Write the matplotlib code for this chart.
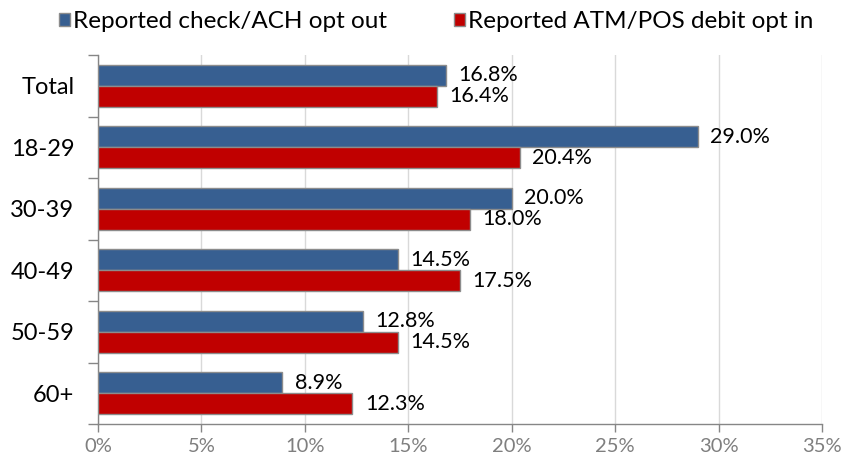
import numpy as np
import matplotlib.pyplot as plt
from matplotlib.ticker import FixedLocator, NullFormatter

plt.rcParams["font.family"] = ["Lato", "DejaVu Sans"]

groups = ["Total", "18-29", "30-39", "40-49", "50-59", "60+"]
check_ach_opt_out = [16.8, 29.0, 20.0, 14.5, 12.8, 8.9]
atm_pos_opt_in = [16.4, 20.4, 18.0, 17.5, 14.5, 12.3]
series_names = ["Reported check/ACH opt out", "Reported ATM/POS debit opt in"]

BLUE = "#375F91"
RED = "#C00000"
EDGE = "#8C8C8C"
AXIS = "#868686"

fig = plt.figure(figsize=(8.43, 4.70), dpi=100)
ax = fig.add_axes([98 / 843, 1 - 424 / 470, 724 / 843, 369 / 470])

y = np.arange(len(groups))
h = 0.345
ax.barh(y - h / 2, check_ach_opt_out, height=h, color=BLUE, edgecolor=EDGE,
        linewidth=1, label=series_names[0], zorder=3)
ax.barh(y + h / 2, atm_pos_opt_in, height=h, color=RED, edgecolor=EDGE,
        linewidth=1, label=series_names[1], zorder=3)

for yi, v in zip(y, check_ach_opt_out):
    ax.text(v + 0.6, yi - h / 2, f"{v:.1f}%", va="center", ha="left",
            fontsize=15.5, color="black")
for yi, v in zip(y, atm_pos_opt_in):
    ax.text(v + 0.6, yi + h / 2, f"{v:.1f}%", va="center", ha="left",
            fontsize=15.5, color="black")

ax.set_xlim(0, 35)
ax.set_ylim(len(groups) - 0.5, -0.5)
ax.set_xticks(np.arange(0, 36, 5))
ax.set_xticklabels([f"{t}%" for t in range(0, 36, 5)])
ax.tick_params(axis="x", colors=AXIS, labelcolor="#7F7F7F", labelsize=14.5,
               length=6, width=1, pad=4)
ax.xaxis.grid(True, color="#D9D9D9", linewidth=1, zorder=0)

# category labels centred, ticks drawn at the boundaries
ax.yaxis.set_major_locator(FixedLocator(np.arange(-0.5, len(groups), 1)))
ax.yaxis.set_major_formatter(NullFormatter())
ax.yaxis.set_minor_locator(FixedLocator(y))
ax.set_yticklabels(groups, minor=True)
ax.tick_params(axis="y", which="major", colors=AXIS, length=7, width=1)
ax.tick_params(axis="y", which="minor", length=0, labelsize=17, pad=17,
               labelcolor="black")

for side in ["top", "right"]:
    ax.spines[side].set_visible(False)
for side in ["left", "bottom"]:
    ax.spines[side].set_color(AXIS)
    ax.spines[side].set_linewidth(1)

ax.legend(loc="lower left", bbox_to_anchor=(-0.067, 1.035), ncol=2, frameon=False,
          fontsize=17.5, handlelength=0.45, handleheight=0.45, handletextpad=0.12,
          columnspacing=2.75, borderaxespad=0)

fig.savefig("out.png", dpi=100)
